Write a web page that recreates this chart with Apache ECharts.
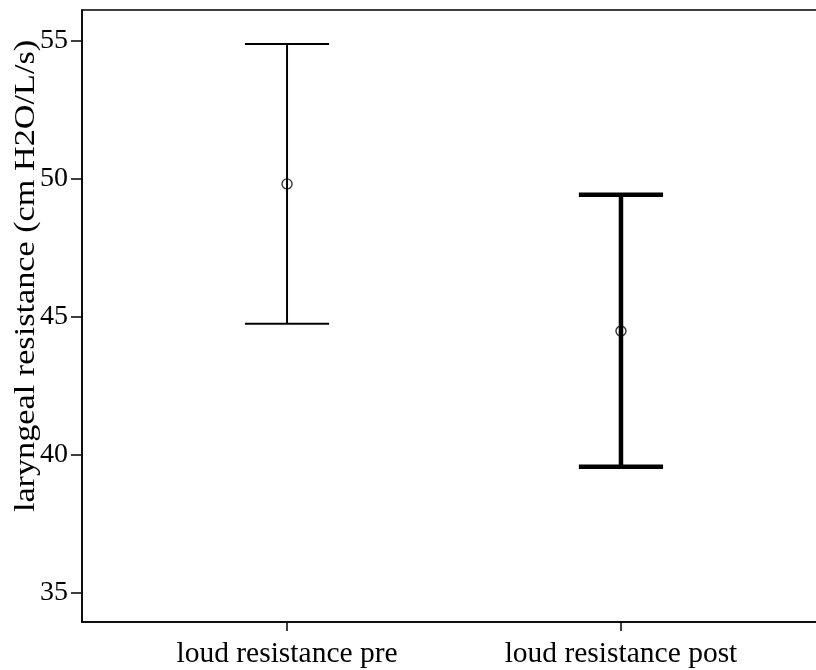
<!DOCTYPE html>
<html>
<head>
<meta charset="utf-8">
<title>Laryngeal resistance, loud: pre vs post</title>
<script src="https://cdn.jsdelivr.net/npm/echarts@6/dist/echarts.min.js"></script>
<style>
  html, body { margin: 0; padding: 0; background: #ffffff; }
  #chart { width: 816px; height: 670px; }
</style>
</head>
<body>
<div id="chart"></div>
<script>
// Conditions shown on the horizontal axis
const categories = ['loud resistance pre', 'loud resistance post'];
// Mean and interval bounds for each condition (cm H2O/L/s)
const means = [49.82, 44.49];
const upper = [54.89, 49.43];
const lower = [44.75, 39.57];
// Labelled ticks on the vertical axis
const yTicks = [35, 40, 45, 50, 55];
// Vertical axis title
const yTitle = 'laryngeal resistance (cm H2O/L/s)';
// Bar stroke width per condition
const barWidths = [2, 4.5];

const FONT = "'Liberation Serif', 'Times New Roman', serif";
const CAP_HALF = 0.126; // cap half-width in x-axis units

const xPos = categories.map((_, i) => i + 1);

const chart = echarts.init(document.getElementById('chart'), null, { renderer: 'canvas' });

chart.setOption({
  backgroundColor: '#ffffff',
  animation: false,
  grid: {
    left: 82, top: 10, width: 744, height: 612,
    outerBoundsMode: 'none',
    containLabel: false,
    show: true, borderColor: '#000', borderWidth: 1.5, backgroundColor: 'transparent'
  },
  // Rotated, slightly elongated title for the vertical axis
  graphic: [{
    type: 'text',
    x: 26, y: 276,
    rotation: Math.PI / 2,
    scaleX: 1.18,
    style: {
      text: yTitle,
      font: "29px 'Liberation Serif', 'Times New Roman', serif",
      fill: '#000',
      align: 'center',
      verticalAlign: 'middle'
    }
  }],
  xAxis: {
    type: 'value',
    min: 0.386, max: 2.614,
    splitLine: { show: false },
    axisLine: { show: true, onZero: false, lineStyle: { color: '#000', width: 1.5 } },
    axisTick: { show: true, length: 9, customValues: xPos, lineStyle: { color: '#000', width: 1.5 } },
    axisLabel: {
      customValues: xPos,
      formatter: v => categories[Math.round(v) - 1] || '',
      color: '#000', fontFamily: FONT, fontSize: 29.5, margin: 17
    }
  },
  yAxis: {
    type: 'value',
    min: 33.95, max: 56.12,
    splitLine: { show: false },
    axisLine: { show: true, lineStyle: { color: '#000', width: 1.5 } },
    axisTick: { show: true, length: 11, customValues: yTicks, lineStyle: { color: '#000', width: 1.5 } },
    axisLabel: {
      customValues: yTicks,
      color: '#000', fontFamily: FONT, fontSize: 28, margin: 14
    }
  },
  series: [
    {
      type: 'custom',
      data: xPos.map((x, i) => [x, lower[i], upper[i]]),
      renderItem: function (params, api) {
        const x = api.value(0);
        const lo = api.value(1);
        const hi = api.value(2);
        const w = barWidths[params.dataIndex];
        const pLo = api.coord([x, lo]);
        const pHi = api.coord([x, hi]);
        const hiL = api.coord([x - CAP_HALF, hi]);
        const hiR = api.coord([x + CAP_HALF, hi]);
        const loL = api.coord([x - CAP_HALF, lo]);
        const loR = api.coord([x + CAP_HALF, lo]);
        const style = { stroke: '#000', lineWidth: w, fill: null };
        return {
          type: 'group',
          children: [
            { type: 'line', shape: { x1: pLo[0], y1: pLo[1], x2: pHi[0], y2: pHi[1] }, style },
            { type: 'line', shape: { x1: hiL[0], y1: hiL[1], x2: hiR[0], y2: hiR[1] }, style },
            { type: 'line', shape: { x1: loL[0], y1: loL[1], x2: loR[0], y2: loR[1] }, style }
          ]
        };
      },
      z: 2
    },
    {
      type: 'scatter',
      data: xPos.map((x, i) => [x, means[i]]),
      symbol: 'circle',
      symbolSize: 10,
      itemStyle: { color: 'rgba(0,0,0,0)', borderColor: '#000', borderWidth: 1.4 },
      z: 3
    }
  ]
});
</script>
</body>
</html>
